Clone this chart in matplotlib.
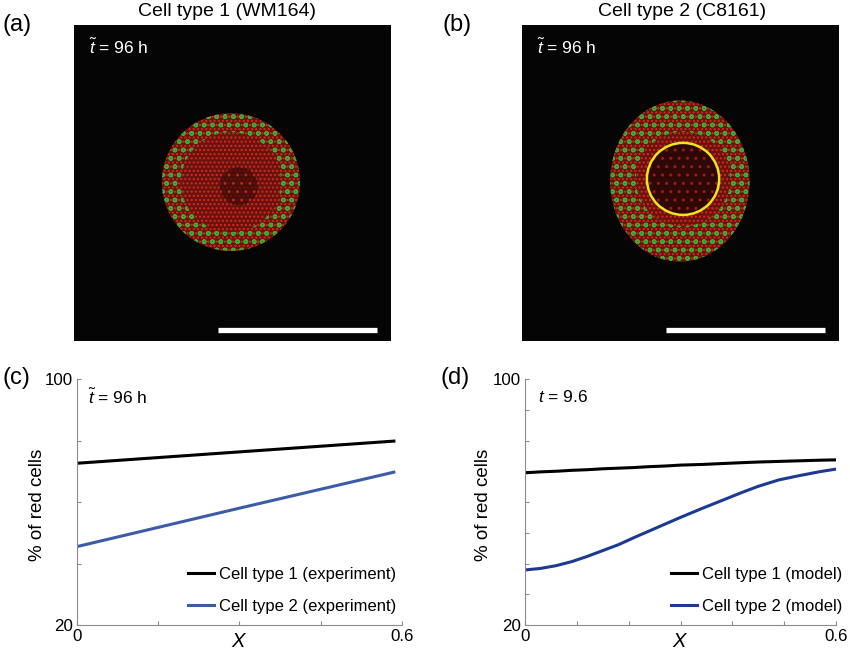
import matplotlib
matplotlib.use("Agg")
import matplotlib.pyplot as plt
from matplotlib.patches import Circle, Ellipse, Wedge

plt.rcParams["font.family"] = ["Liberation Sans", "DejaVu Sans"]
plt.rcParams["mathtext.fontset"] = "custom"
plt.rcParams["mathtext.rm"] = "Liberation Sans"
plt.rcParams["mathtext.it"] = "Liberation Sans:italic"
plt.rcParams["hatch.linewidth"] = 1.0

# panel (c): experiment, % red cells vs X
x_exp = [0.0, 0.3, 0.585]
red_exp_type1 = [72.6, 76.3, 79.8]
red_exp_type2 = [45.5, 58.0, 69.7]

# panel (d): model, % red cells vs X
x_model = [0.0, 0.03, 0.06, 0.09, 0.12, 0.15, 0.18, 0.21, 0.24, 0.27,
           0.30, 0.34, 0.38, 0.42, 0.45, 0.49, 0.53, 0.57, 0.60]
red_model_type1 = [69.5, 69.8, 70.0, 70.3, 70.5, 70.8, 71.0, 71.2, 71.5, 71.7,
                   72.0, 72.2, 72.5, 72.8, 73.0, 73.2, 73.4, 73.6, 73.7]
red_model_type2 = [37.9, 38.4, 39.3, 40.6, 42.3, 44.2, 46.1, 48.4, 50.6, 52.8,
                   55.0, 57.8, 60.5, 63.2, 65.1, 67.2, 68.6, 69.9, 70.7]

# spheroid sizes in the images (fraction of image width)
sph_a_radius = 0.218
sph_a_ring = 0.06
sph_b_size = (0.44, 0.51)
sph_b_core = 0.114

W, H = 850, 654
fig = plt.figure(figsize=(W / 100, H / 100), dpi=100)


def box(l, r, t, b):
    return [l / W, 1 - b / H, (r - l) / W, (b - t) / H]


TITLE = 14
TICK = 12.2
GRAY = "#8c8c8c"
RED_FACE = "#6a130e"
RED_DOT = "#d42a1e"
GREEN_DOT = "#3cae38"

# ---- images (a), (b) ----
ax_a = fig.add_axes(box(74, 391, 25, 341))
ax_b = fig.add_axes(box(522, 839, 25, 341))
for ax in (ax_a, ax_b):
    ax.set_facecolor("#050505")
    ax.set_xlim(0, 1)
    ax.set_ylim(0, 1)
    ax.set_xticks([])
    ax.set_yticks([])
    for s in ax.spines.values():
        s.set_visible(False)
    ax.plot([0.455, 0.956], [0.035, 0.035], color="white", lw=3.8,
            solid_capstyle="butt")
    ax.text(0.047, 0.93, r"$\tilde{t}$ = 96 h", color="white", fontsize=12.5,
            va="center", ha="left", transform=ax.transAxes)

ca = (0.495, 0.503)
ax_a.add_patch(Circle(ca, sph_a_radius, facecolor=RED_FACE, edgecolor=RED_DOT,
                      hatch="....", lw=0))
ax_a.add_patch(Wedge(ca, sph_a_radius, 0, 360, width=sph_a_ring,
                     facecolor="none", edgecolor=GREEN_DOT, hatch="oo", lw=0))
ax_a.add_patch(Circle((0.52, 0.49), 0.06, facecolor="#3a0a07", edgecolor=RED_DOT,
                      hatch="..", lw=0, alpha=0.7))

cb = (0.498, 0.506)
ax_b.add_patch(Ellipse(cb, *sph_b_size, facecolor=RED_FACE, edgecolor=RED_DOT,
                       hatch="....", lw=0))
ax_b.add_patch(Ellipse(cb, *sph_b_size, facecolor="none", edgecolor=GREEN_DOT,
                       hatch="oo", lw=0))
core = (0.508, 0.513)
ax_b.add_patch(Circle(core, sph_b_core + 0.035, facecolor=RED_FACE, edgecolor=RED_DOT,
                      hatch="....", lw=0))
ax_b.add_patch(Circle(core, sph_b_core, facecolor="#2e0806", edgecolor="#9a1c14",
                      hatch="..", lw=0))
ax_b.add_patch(Circle(core, sph_b_core, facecolor="none", edgecolor="#f2e41c", lw=1.8))

fig.text(227 / W, 1 - 12 / H, "Cell type 1 (WM164)", fontsize=TITLE, ha="center", va="center")
fig.text(682 / W, 1 - 12 / H, "Cell type 2 (C8161)", fontsize=TITLE, ha="center", va="center")

# ---- plots (c), (d) ----
ax_c = fig.add_axes(box(77, 402, 379, 625))
ax_d = fig.add_axes(box(525, 836, 379, 625))

ax_c.plot(x_exp, red_exp_type1, color="black", lw=2.2, label="Cell type 1 (experiment)")
ax_c.plot(x_exp, red_exp_type2, color="#3d5ca8", lw=2.2, label="Cell type 2 (experiment)")
ax_d.plot(x_model, red_model_type1, color="black", lw=2.2, label="Cell type 1 (model)")
ax_d.plot(x_model, red_model_type2, color="#1c3a94", lw=2.2, label="Cell type 2 (model)")

ax_c.set_xticks([0, 0.15, 0.3, 0.45, 0.6])
ax_c.set_xticklabels(["0", "", "", "", "0.6"])
ax_c.set_yticks([20, 40, 60, 80, 100])
ax_c.set_yticklabels(["20", "", "", "", "100"])
ax_d.set_xticks([0, 0.1, 0.2, 0.3, 0.4, 0.5, 0.6])
ax_d.set_xticklabels(["0", "", "", "", "", "", "0.6"])
ax_d.set_yticks([20, 30, 40, 50, 60, 70, 80, 90, 100])
ax_d.set_yticklabels(["20", "", "", "", "", "", "", "", "100"])

legend_kw = dict(frameon=False, fontsize=12, handlelength=1.56, handletextpad=0.3,
                 labelspacing=1.05, borderaxespad=0)
for ax, ylab_x in ((ax_c, -0.1215), (ax_d, -0.132)):
    ax.set_xlim(0, 0.6)
    ax.set_ylim(20, 100)
    ax.spines["top"].set_visible(False)
    ax.spines["right"].set_visible(False)
    for s in ("left", "bottom"):
        ax.spines[s].set_color(GRAY)
        ax.spines[s].set_linewidth(0.8)
    ax.tick_params(direction="in", length=3, width=0.8, color=GRAY,
                   labelsize=TICK, pad=3)
    ax.set_xlabel("$X$", fontsize=14.5, va="center")
    ax.xaxis.set_label_coords(0.5, -0.066)
    ax.set_ylabel("% of red cells", fontsize=13.5, va="center")
    ax.yaxis.set_label_coords(ylab_x, 0.49)

ax_c.legend(loc="lower right", bbox_to_anchor=(403 / W, 1 - 621 / H),
            bbox_transform=fig.transFigure, **legend_kw)
ax_d.legend(loc="lower right", bbox_to_anchor=(849 / W, 1 - 621 / H),
            bbox_transform=fig.transFigure, **legend_kw)

ax_c.text(0.035, 0.925, r"$\tilde{t}$ = 96 h", fontsize=12.5, va="center",
          transform=ax_c.transAxes)
ax_d.text(0.042, 0.925, r"$t$ = 9.6", fontsize=12.5, va="center",
          transform=ax_d.transAxes)

for lbl, x, y in [("(a)", 3, 25), ("(b)", 442, 25), ("(c)", 3, 378), ("(d)", 441, 378)]:
    fig.text(x / W, 1 - y / H, lbl, fontsize=17, ha="left", va="center")

fig.savefig("out.png", dpi=100)
